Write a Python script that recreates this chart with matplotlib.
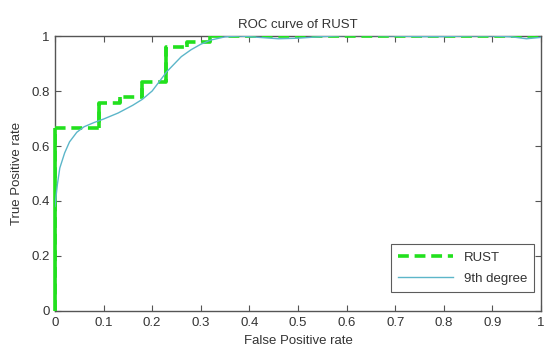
import matplotlib
matplotlib.use("Agg")
import matplotlib.pyplot as plt

plt.rcParams['font.family'] = ['Liberation Sans', 'DejaVu Sans']

# ROC step curve (RUST)
roc_fpr = [0.0, 0.0, 0.091, 0.091, 0.134, 0.134, 0.18, 0.18, 0.228, 0.228, 0.271, 0.271, 0.319, 0.319, 1.0]
roc_tpr = [0.0, 0.664, 0.664, 0.755, 0.755, 0.779, 0.779, 0.834, 0.834, 0.961, 0.961, 0.979, 0.979, 1.0, 1.0]

# 9th degree polynomial fit
fit_x = [0.0, 0.005, 0.01, 0.02, 0.03, 0.045, 0.06, 0.08, 0.1, 0.13, 0.16, 0.18, 0.2, 0.23, 0.26,
         0.28, 0.3, 0.32, 0.35, 0.38, 0.42, 0.46, 0.5, 0.55, 0.6, 0.65, 0.7, 0.75, 0.8, 0.85,
         0.9, 0.94, 0.97, 1.0]
fit_y = [0.38, 0.46, 0.52, 0.575, 0.615, 0.65, 0.67, 0.685, 0.698, 0.72, 0.748, 0.77, 0.80, 0.87, 0.925,
         0.95, 0.97, 0.985, 0.997, 1.0, 0.995, 0.99, 0.992, 0.998, 1.002, 1.002, 1.0, 0.998, 0.998, 1.0,
         1.0, 0.997, 0.99, 0.995]

x_ticks = [0, 0.1, 0.2, 0.3, 0.4, 0.5, 0.6, 0.7, 0.8, 0.9, 1]
x_labels = ['0', '0.1', '0.2', '0.3', '0.4', '0.5', '0.6', '0.7', '0.8', '0.9', '1']
y_ticks = [0, 0.2, 0.4, 0.6, 0.8, 1]
y_labels = ['0', '0.2', '0.4', '0.6', '0.8', '1']

green = '#22e01e'
teal = '#5cb6c9'
txt = '#333333'

fig = plt.figure(figsize=(5.44, 3.53), dpi=100)
ax = fig.add_axes([0.101, 0.119, 0.8935, 0.779])

ln1, = ax.plot(roc_fpr, roc_tpr, color=green, lw=2.6, dashes=(3, 1.6), label='RUST', zorder=3)
# vertical risers drawn solid
vx = [roc_fpr[i] for i in range(len(roc_fpr) - 1) if roc_fpr[i] == roc_fpr[i + 1]]
vy0 = [roc_tpr[i] for i in range(len(roc_fpr) - 1) if roc_fpr[i] == roc_fpr[i + 1]]
vy1 = [roc_tpr[i + 1] for i in range(len(roc_fpr) - 1) if roc_fpr[i] == roc_fpr[i + 1]]
ax.vlines(vx, vy0, vy1, colors=green, lw=2.6, zorder=3, clip_on=False)
ln2, = ax.plot(fit_x, fit_y, color=teal, lw=1.0, label='9th degree', zorder=4)

ax.set_xlim(0, 1)
ax.set_ylim(0, 1)
ax.set_xticks(x_ticks)
ax.set_xticklabels(x_labels)
ax.set_yticks(y_ticks)
ax.set_yticklabels(y_labels)
ax.tick_params(direction='in', top=True, right=True, length=4, width=0.8,
               colors='#555555', labelcolor=txt, labelsize=9.5, pad=4)
for s in ax.spines.values():
    s.set_color('#555555')
    s.set_linewidth(1.0)

ax.set_title('ROC curve of RUST', fontsize=9.5, color=txt, pad=6)
ax.set_xlabel('False Positive rate', fontsize=9.5, color=txt, labelpad=5)
ax.set_ylabel('True Positive rate', fontsize=9.5, color=txt, labelpad=6)

leg = ax.legend(handles=[ln1, ln2], loc='lower right', bbox_to_anchor=(1.0, 0.045),
                fontsize=9.5, frameon=True, fancybox=False, edgecolor='#333333',
                handlelength=4.2, borderpad=0.55, labelspacing=0.65, handletextpad=0.8)
leg.get_frame().set_linewidth(0.8)
for t in leg.get_texts():
    t.set_color(txt)

fig.savefig('out.png', dpi=100)
